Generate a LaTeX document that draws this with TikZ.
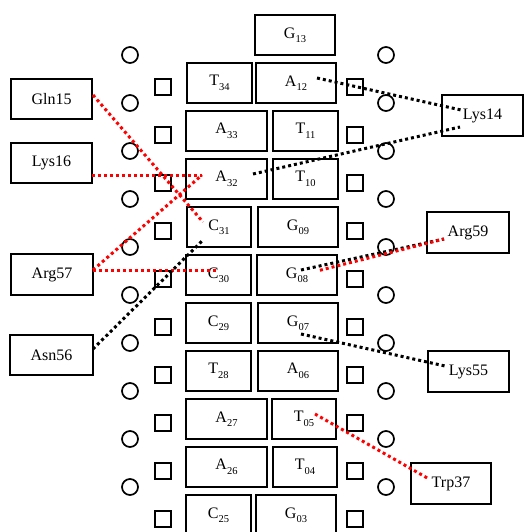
\documentclass[tikz,border=0pt]{standalone}
\usepackage{fontspec}
\setmainfont{Liberation Serif}
\newcommand\sub[1]{\raisebox{-0.28em}{\fontsize{10.5}{10.5}\selectfont #1}}
\tikzset{
  box/.style={draw, line width=1.7pt, inner sep=0pt, font=\fontsize{16}{19}\selectfont},
  ring/.style={draw, circle, line width=1.7pt, minimum size=16pt, inner sep=0pt},
  sq/.style={draw, rectangle, line width=1.7pt, minimum size=16pt, inner sep=0pt},
  bdot/.style={line width=3pt, dash pattern=on 3pt off 3pt, black},
  rdot/.style={line width=3pt, dash pattern=on 3pt off 3pt, red},
}
\newcommand\bx[6]{\node[box, minimum width={#3-#2}, minimum height={#5-#4}] (#1) at ({(#2+#3)/2},{(#4+#5)/2}) {#6};}
\begin{document}
\begin{tikzpicture}[x=1pt,y=-1pt]
\useasboundingbox (0,0) rectangle (524,532);
\clip (0,0) rectangle (524,532);
% nucleotide boxes
\bx{G13}{255}{335}{15}{55}{G\sub{13}}
\bx{T34}{187}{252}{63}{103}{T\sub{34}}
\bx{A12}{256}{336}{63}{103}{A\sub{12}}
\bx{A33}{186}{267}{111}{151}{A\sub{33}}
\bx{T11}{273}{338}{111}{151}{T\sub{11}}
\bx{A32}{186}{267}{159}{199}{A\sub{32}}
\bx{T10}{273}{338}{159}{199}{T\sub{10}}
\bx{C31}{187}{251}{207}{247}{C\sub{31}}
\bx{G09}{258}{338}{207}{247}{G\sub{09}}
\bx{C30}{186}{251}{255}{295}{C\sub{30}}
\bx{G08}{257}{337}{255}{295}{G\sub{08}}
\bx{C29}{186}{251}{303}{343}{C\sub{29}}
\bx{G07}{258}{338}{303}{343}{G\sub{07}}
\bx{T28}{186}{251}{351}{391}{T\sub{28}}
\bx{A06}{258}{338}{351}{391}{A\sub{06}}
\bx{A27}{186}{267}{399}{439}{A\sub{27}}
\bx{T05}{272}{336}{399}{439}{T\sub{05}}
\bx{A26}{186}{267}{447}{487}{A\sub{26}}
\bx{T04}{273}{337}{447}{487}{T\sub{04}}
\bx{C25}{186}{251}{495}{535}{C\sub{25}}
\bx{G03}{256}{336}{495}{535}{G\sub{03}}
% amino acid boxes
\bx{Gln15}{11}{92}{79}{119}{Gln15}
\bx{Lys16}{11}{92}{143}{183}{Lys16}
\bx{Arg57}{11}{93}{254}{295}{Arg57}
\bx{Asn56}{10}{93}{335}{375}{Asn56}
\bx{Lys14}{442}{523}{95}{136}{Lys14}
\bx{Arg59}{427}{509}{212}{253}{Arg59}
\bx{Lys55}{428}{509}{351}{392}{Lys55}
\bx{Trp37}{411}{491}{463}{504}{Trp37}
% circles and squares
\foreach \i in {0,...,9}{
  \node[ring] (lc\i) at (130,{55+48*\i}) {};
  \node[ring] (rc\i) at (386,{55+48*\i}) {};
  \node[sq] (ls\i) at (163,{87+48*\i}) {};
  \node[sq] (rs\i) at (355,{87+48*\i}) {};
}
% connector end points
\coordinate (gln) at (93,95);
\coordinate (lys16) at (92,175);
\coordinate (arg57) at (93,270);
\coordinate (asn) at (93,349);
\coordinate (c31a) at (203,222);
\coordinate (c31b) at (203,240);
\coordinate (a32a) at (202,175);
\coordinate (a32b) at (253,174);
\coordinate (c30) at (218,270);
\coordinate (a12) at (317,78);
\coordinate (lys14a) at (461,110);
\coordinate (lys14b) at (460,127);
\coordinate (g08a) at (301,270);
\coordinate (g08b) at (317,271);
\coordinate (arg59) at (444,239);
\coordinate (g07) at (301,334);
\coordinate (lys55) at (445,366);
\coordinate (t05) at (315,414);
\coordinate (trp) at (429,479);
% connectors
\draw[rdot] (gln) -- (c31a);
\draw[rdot] (lys16) -- (a32a);
\draw[rdot] (arg57) -- (a32a);
\draw[rdot] (arg57) -- (c30);
\draw[bdot] (asn) -- (c31b);
\draw[bdot] (a32b) -- (lys14b);
\draw[bdot] (a12) -- (lys14a);
\draw[bdot] (g08a) -- (arg59);
\draw[rdot, dash phase=3pt] (g08b) -- (arg59);
\draw[bdot] (g07) -- (lys55);
\draw[rdot] (t05) -- (trp);
\end{tikzpicture}
\end{document}
